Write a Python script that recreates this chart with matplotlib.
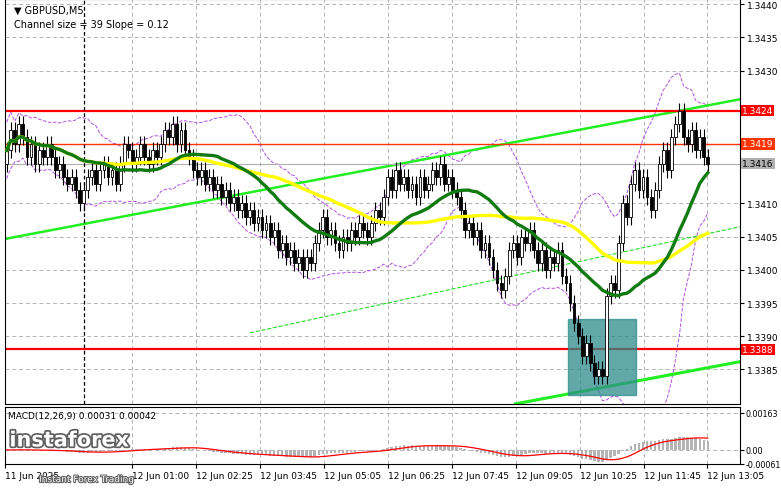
import numpy as np
import pandas as pd
import matplotlib.pyplot as plt
import matplotlib.patheffects as pe
from matplotlib.patches import Rectangle

# closes of 5-minute candles
closes = [
    1.3418, 1.3421, 1.3419, 1.3422, 1.3420, 1.3417, 1.3419, 1.3416, 1.3418, 1.3417,
    1.3419, 1.3417, 1.3415, 1.3416, 1.3414, 1.3413, 1.3414, 1.3412, 1.3410, 1.3412,
    1.3414, 1.3415, 1.3413, 1.3415, 1.3416, 1.3414, 1.3415, 1.3413, 1.3416, 1.3419,
    1.3418, 1.3416, 1.3417, 1.3419, 1.3417, 1.3416, 1.3418, 1.3417, 1.3419, 1.3421,
    1.3420, 1.3422, 1.3419, 1.3421, 1.3418, 1.3417, 1.3415, 1.3414, 1.3415, 1.3413,
    1.3414, 1.3412, 1.3413, 1.3411, 1.3412, 1.3410, 1.3411, 1.3409, 1.3410, 1.3408,
    1.3409, 1.3407, 1.3408, 1.3406, 1.3407, 1.3405, 1.3406, 1.3403, 1.3404, 1.3402,
    1.3403, 1.3401, 1.3402, 1.3400, 1.3402, 1.3401, 1.3404, 1.3406, 1.3408, 1.3405,
    1.3406, 1.3404, 1.3403, 1.3405, 1.3404, 1.3406, 1.3405, 1.3407, 1.3406, 1.3405,
    1.3407, 1.3409, 1.3408, 1.3411, 1.3414, 1.3412, 1.3415, 1.3413, 1.3414, 1.3412,
    1.3413, 1.3411, 1.3414, 1.3412, 1.3413, 1.3415, 1.3414, 1.3416, 1.3413, 1.3414,
    1.3412, 1.3411, 1.3409, 1.3406, 1.3407, 1.3405, 1.3406, 1.3403, 1.3404, 1.3402,
    1.3400, 1.3398, 1.3397, 1.3399, 1.3403, 1.3404, 1.3402, 1.3405, 1.3404, 1.3406,
    1.3403, 1.3401, 1.3403, 1.3400, 1.3402, 1.3401, 1.3403, 1.3399, 1.3398, 1.3395,
    1.3392, 1.3390, 1.3387, 1.3389, 1.3386, 1.3384, 1.3385, 1.3384, 1.3396, 1.3398,
    1.3397, 1.3404, 1.3410, 1.3408, 1.3413, 1.3415, 1.3412, 1.3414, 1.3411, 1.3409,
    1.3412, 1.3416, 1.3418, 1.3415, 1.3420, 1.3422, 1.3424, 1.3420, 1.3419, 1.3421,
    1.3418, 1.3420, 1.3417, 1.3416,
]
open_first = 1.3416
levels_red = [1.3424, 1.3388]
level_orange = 1.3419
last_price = 1.3416

upper_channel = ([0, 181], [1.34047, 1.34257])
lower_channel = ([125.5, 190], [1.33798, 1.33872])
mid_channel = ([60, 181], [1.33905, 1.34065])
box_x = [138.4, 155.2]
box_y = [1.33811, 1.33926]

price_ticks = [1.3385, 1.3390, 1.3395, 1.3400, 1.3405, 1.3410, 1.3430, 1.3435, 1.3440]
macd_ticks = [-0.00061, 0.0, 0.00163]
macd_labels = ["-0.00061", "0.00", "0.00163"]
time_px = [3, 131, 195, 259, 323, 387, 451, 515, 579, 643, 707]
time_labels = ["11 Jun 2025", "12 Jun 01:00", "12 Jun 02:25", "12 Jun 03:45",
               "12 Jun 05:05", "12 Jun 06:25", "12 Jun 07:45", "12 Jun 09:05",
               "12 Jun 10:25", "12 Jun 11:45", "12 Jun 13:05"]

c = pd.Series(closes)
o = c.shift(1).fillna(open_first)
hi = np.maximum(o, c) + 0.00012
lo = np.minimum(o, c) - 0.00012
idx = np.arange(len(c))

fast_ma = c.rolling(24, min_periods=1).mean()
slow_ma = c.rolling(48, min_periods=1).mean()
bb_mid = c.rolling(20, min_periods=1).mean()
bb_std = c.rolling(20, min_periods=2).std().bfill()
macd = c.ewm(span=12).mean() - c.ewm(span=26).mean()
signal = macd.rolling(9, min_periods=1).mean()

fig = plt.figure(figsize=(7.81, 4.89), dpi=100)
ax = fig.add_axes([0.006, 0.172, 0.942, 0.828])
axm = fig.add_axes([0.006, 0.049, 0.942, 0.117], sharex=ax)

px = 4.06
xlim = ((4 - 5) / px, (740 - 5) / px)
for a in (ax, axm):
    a.set_xlim(*xlim)
    a.grid(True, color="#b4b4b4", ls=(0, (4, 3)), lw=0.7)
    a.yaxis.tick_right()
    a.tick_params(axis="y", labelsize=6.5, length=3, pad=2)
    for s in a.spines.values():
        s.set_color("black")
        s.set_linewidth(0.8)
ax.set_ylim(1.33798, 1.34408)
ax.set_yticks(price_ticks)
ax.set_yticklabels([f"{t:.4f}" for t in price_ticks])
ax.tick_params(axis="x", length=0, labelbottom=False)

# envelopes
ax.plot(idx, bb_mid + 2 * bb_std, color="#b050e0", ls="--", lw=0.7)
ax.plot(idx, bb_mid - 2 * bb_std, color="#b050e0", ls="--", lw=0.7)

# channel
ax.plot(*upper_channel, color="#22ee22", lw=1.8)
ax.plot(*lower_channel, color="#22ee22", lw=2.2)
ax.plot(*mid_channel, color="#22dd22", lw=0.8, ls="--")

# levels
for lv in levels_red:
    ax.axhline(lv, color="red", lw=1.6)
ax.axhline(level_orange, color="#ff3300", lw=1.0)
ax.axhline(last_price, color="#b0b0b0", lw=0.8)
ax.axvline(19, color="black", ls=(0, (3, 2)), lw=0.9)

ax.add_patch(Rectangle((box_x[0], box_y[0]), box_x[1] - box_x[0], box_y[1] - box_y[0],
                       color="#2e8b8b", alpha=0.75, zorder=2))

# candles
for i in idx:
    up = c[i] >= o[i]
    ax.vlines(i, lo[i], hi[i], color="black", lw=0.8, zorder=3)
    bot = min(o[i], c[i])
    h = max(abs(c[i] - o[i]), 0.00002)
    ax.add_patch(Rectangle((i - 0.35, bot), 0.7, h, facecolor="white" if up else "black",
                           edgecolor="black", lw=0.6, zorder=4))

ax.plot(idx, slow_ma, color="#ffff00", lw=2.4, zorder=5)
ax.plot(idx, fast_ma, color="#117a11", lw=2.4, zorder=5)

# boxed price labels
for lv, col in [(1.3424, "red"), (1.3419, "#ff3300"), (1.3416, "#b0b0b0"), (1.3388, "red")]:
    ax.text(1.002, lv, f"{lv:.4f}", transform=ax.get_yaxis_transform(), fontsize=6.5,
            color="white" if col != "#b0b0b0" else "black", va="center", ha="left",
            bbox=dict(boxstyle="square,pad=0.15", fc=col, ec="none"), clip_on=False)

ax.text(0.012, 0.985, "\u25bc GBPUSD,M5", transform=ax.transAxes, fontsize=7, va="top")
ax.text(0.012, 0.95, "Channel size = 39 Slope = 0.12", transform=ax.transAxes, fontsize=7, va="top")

# MACD
axm.bar(idx, macd, width=0.6, color="#b4b4b4")
axm.plot(idx, signal, color="red", lw=0.9)
axm.set_ylim(-0.00062, 0.0019)
axm.set_yticks(macd_ticks)
axm.set_yticklabels(macd_labels)
axm.tick_params(axis="y", labelsize=5.8, pad=1)
axm.set_xticks([(p - 5) / px for p in time_px])
axm.set_xticklabels(time_labels, fontsize=6.5, ha="left")
axm.tick_params(axis="x", length=3, pad=2)
axm.text(0.005, 0.93, "MACD(12,26,9) 0.00031 0.00042", transform=axm.transAxes, fontsize=6.5, va="top")

fig.text(0.012, 0.085, "instaforex", fontsize=15, color="white", fontweight="bold",
         path_effects=[pe.withStroke(linewidth=2.5, foreground="#606060")])
fig.text(0.05, 0.012, "Instant Forex Trading", fontsize=6.5, color="white",
         path_effects=[pe.withStroke(linewidth=1.5, foreground="#606060")])

fig.savefig("out.png", dpi=100)
